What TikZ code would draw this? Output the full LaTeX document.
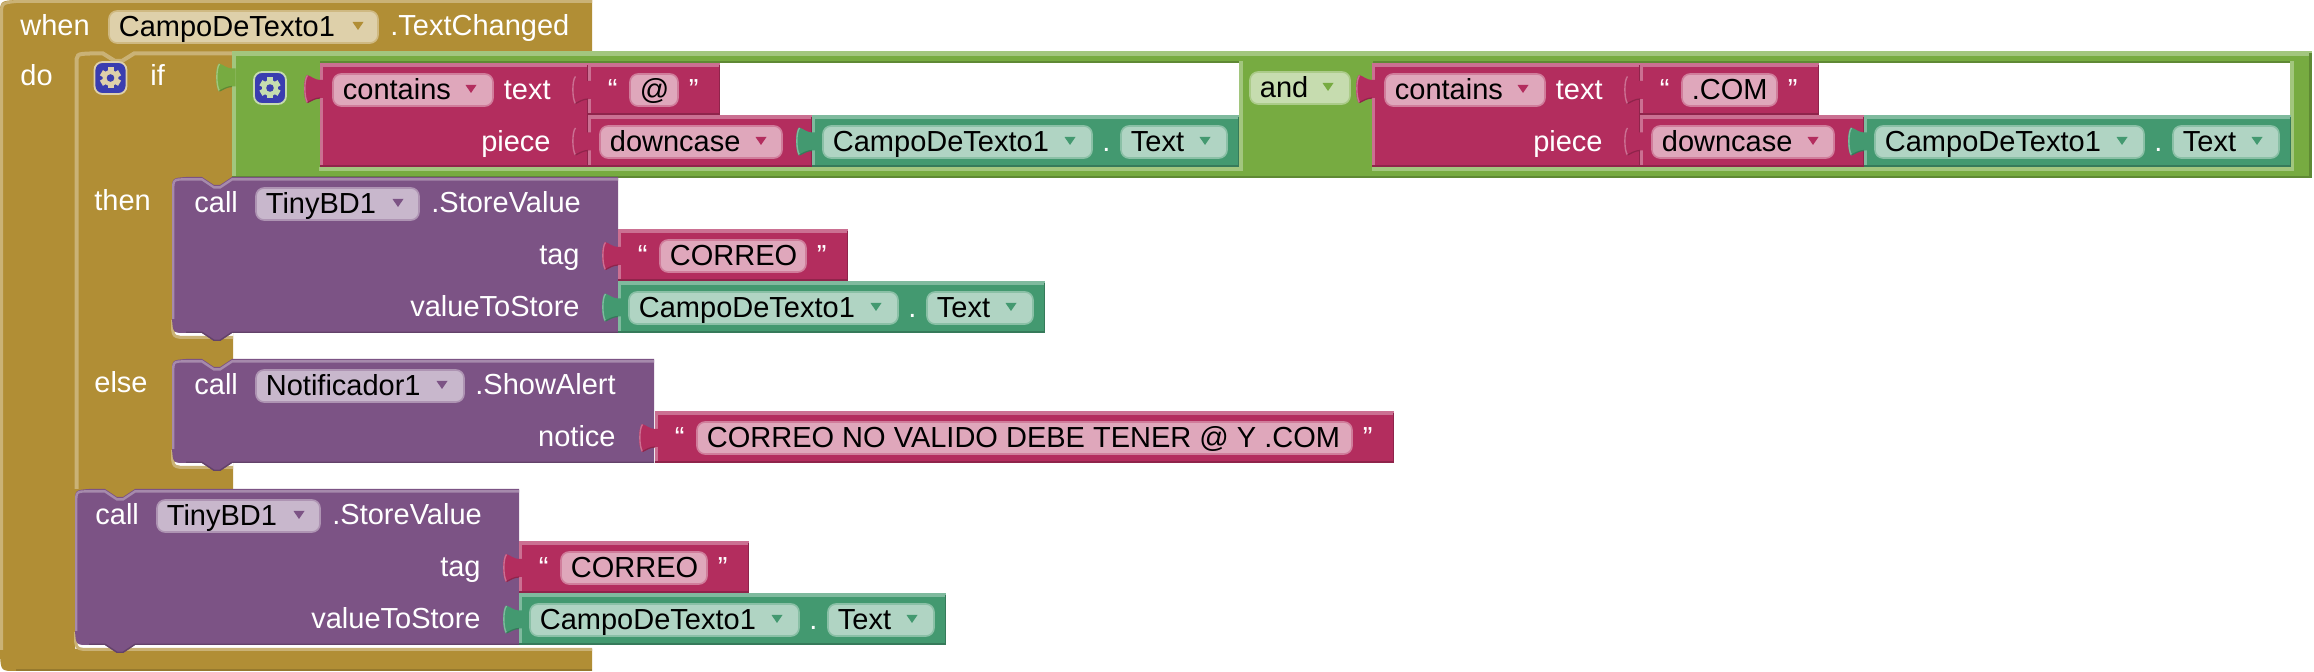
\documentclass[tikz,border=0pt]{standalone}
\usepackage{fontspec}
\setmainfont{Liberation Sans}
\definecolor{oro}{HTML}{B18E35}
\definecolor{rosa}{HTML}{B32D5E}
\definecolor{morado}{HTML}{7C5385}
\definecolor{verde}{HTML}{77AB41}
\definecolor{menta}{HTML}{439970}
\definecolor{azul}{HTML}{3A3DB0}
\tikzset{
    every node/.style={font=\fontsize{14.5}{16}\selectfont,inner sep=0pt,anchor=base west},
    etiq/.style={text=white},
    etiqder/.style={text=white,anchor=base east},
}
%Enchufe lateral de un bloque
\newcommand{\enchufe}[3]{
    \fill[#1] (#2+3.5,#3+5) -- (#2,#3+5) .. controls (#2-5,#3+5) and (#2-9,#3+1) .. (#2-13,#3) .. controls (#2-17,#3+4) and (#2-17,#3+23) .. (#2-13,#3+28) .. controls (#2-9,#3+26) and (#2-5,#3+23) .. (#2,#3+23) -- (#2+3.5,#3+23) -- cycle;
    \draw[#1!68!white,line width=0.7pt] (#2-12.5,#3+0.5) .. controls (#2-16,#3+4) and (#2-16,#3+23) .. (#2-12.5,#3+27.5);
    \draw[#1!80!black,line width=0.6pt] (#2-12.5,#3+27.5) .. controls (#2-9,#3+26) and (#2-5,#3+23) .. (#2,#3+23);
}
%Bloque recto con sus bordes
\newcommand{\bloque}[5]{
    \fill[#1] (#2,#3) rectangle (#4,#5);
    \fill[#1!68!white] (#2,#3) rectangle (#4,#3+4);
    \fill[#1!68!white] (#2,#3) rectangle (#2+3,#5);
    \fill[#1!80!black] (#2,#5-2) rectangle (#4,#5);
    \fill[#1!80!black] (#4-1.5,#3+2) rectangle (#4,#5);
}
%Campo sin flecha y campo con flecha
\newcommand{\campoT}[6]{
    \draw[#2!62!white,fill=#2!42!white,line width=0.8pt,rounded corners=4pt] (#3+1,#4+1) rectangle (#5-1,#4+33);
    \node[text=black] (#1) at (#3+10.5,#4+26.5) {#6};
}
\newcommand{\campo}[7]{
    \campoT{#1}{#2}{#3}{#4}{#5}{#7}
    \fill[#2] (#6-5.5,#4+12) -- (#6+5.5,#4+12) -- (#6,#4+20) -- cycle;
}
%Bloque de texto
\newcommand{\texto}[5]{
    \bloque{rosa}{#2}{#3}{#4+41}{#3+52}
    \enchufe{rosa}{#2}{#3+13}
    \node[etiq] (#1a) at (#2+19.5,#3+37) {“};
    \campoT{#1b}{rosa}{#2+41}{#3+10}{#4}{#5}
    \node[etiq] (#1c) at (#4+9.5,#3+37) {”};
}
%Bloque de componente
\newcommand{\componente}[3]{
    \bloque{menta}{#2}{#3}{#2+427}{#3+52}
    \enchufe{menta}{#2}{#3+12.5}
    \campo{#1a}{menta}{#2+10}{#3+10}{#2+281}{#2+258}{CampoDeTexto1}
    \node[etiq] (#1b) at (#2+290,#3+37) {.};
    \campo{#1c}{menta}{#2+308}{#3+10}{#2+416}{#2+393}{Text}
}
%Bloque contains
\newcommand{\contiene}[4]{
    \bloque{rosa}{#2}{63}{#2+268}{167}
    \enchufe{rosa}{#2}{75}
    \campo{#1a}{rosa}{#2+12}{73}{#2+174}{#2+151}{contains}
    \node[etiqder] (#1b) at (#2+231,100) {text};
    \node[etiqder] (#1c) at (#2+231,152) {piece};
    \texto{#1d}{#2+268}{63}{#3}{#4}
    \bloque{rosa}{#2+268}{115}{#2+492}{167}
    \enchufe{rosa}{#2+268}{127.5}
    \campo{#1e}{rosa}{#2+279}{125}{#2+463}{#2+441}{downcase}
    \componente{#1f}{#2+492}{115}
}
%Cuerpo de una llamada, con muesca arriba y abajo
\newcommand{\cuerpo}[4]{
    \fill[morado] (#1,#2+14) .. controls (#1,#2+1) .. (#1+14,#2) -- (#1+30,#2) -- (#1+42,#2+8) -- (#1+48,#2+8) -- (#1+60,#2) -- (#3,#2) -- (#3,#4) -- (#1+60,#4) -- (#1+48,#4+8) -- (#1+42,#4+8) -- (#1+30,#4) -- (#1+14,#4) .. controls (#1+1,#4) .. (#1,#4-14) -- cycle;
    \draw[morado!68!white,line width=1.2pt] (#1+1.2,#4-14) -- (#1+1.2,#2+14) .. controls (#1+1.2,#2+2.4) .. (#1+14,#2+2.4) -- (#1+30,#2+2.4) -- (#1+42,#2+10.4) -- (#1+48,#2+10.4) -- (#1+60,#2+2.4) -- (#3,#2+2.4);
    \draw[morado!80!black,line width=0.7pt] (#1+14,#4-0.7) -- (#1+30,#4-0.7) -- (#1+42,#4+7.3) -- (#1+48,#4+7.3) -- (#1+60,#4-0.7) -- (#3,#4-0.7);
}
%Hueco de una sentencia, bajo la llamada
\newcommand{\labio}[3]{
    \fill[white] (#1,#3-16) .. controls (#1,#3+3) .. (#1+16,#3+3) -- (#2,#3+3) -- (#2,#3-1) -- (#1,#3-1) -- cycle;
    \draw[oro!68!white,line width=1.5pt] (#1+0.5,#3-13) .. controls (#1+0.5,#3+4.5) .. (#1+16,#3+4.5) -- (#2,#3+4.5);
}
%Llamada StoreValue
\newcommand{\storevalue}[4]{
    \cuerpo{#4}{#3}{#2+446}{#3+156}
    \node[etiq] (#1a) at (#2+22,#3+36) {call};
    \campo{#1b}{morado}{#2+83}{#3+10}{#2+248}{#2+226}{TinyBD1}
    \node[etiq] (#1c) at (#2+259,#3+36) {.StoreValue};
    \node[etiqder] (#1d) at (#2+408,#3+88) {tag};
    \node[etiqder] (#1e) at (#2+408,#3+140) {valueToStore};
    \texto{#1f}{#2+446}{#3+52}{#2+635}{CORREO}
    \componente{#1g}{#2+446}{#3+104}
}
%Boton del engranaje
\newcommand{\engrane}[3]{
    \draw[#3,fill=azul,line width=0.9pt,rounded corners=4pt] (#1-16,#2-16) rectangle (#1+16,#2+16);
    \foreach \a in {0,60,...,300}{
        \fill[#3,shift={(#1,#2)},rotate=\a] (-3,-10.5) rectangle (3,0);
    }
    \fill[#3] (#1,#2) circle (4pt);
    \fill[azul] (#1,#2) circle (1.9pt);
}
\begin{document}
\begin{tikzpicture}[x=0.5pt,y=-0.5pt]
\useasboundingbox[fill=white] (0,0) rectangle (2314,672);

%Bloque when
\fill[oro] (0,16) .. controls (0,1) .. (16,0) -- (592,0) -- (592,51) -- (233,51) -- (233,500) -- (75,500) -- (75,649) -- (592,649) -- (592,671) -- (16,671) .. controls (1,671) .. (0,655) -- cycle;
\draw[oro!68!white,line width=1.5pt] (1.5,650) -- (1.5,16) .. controls (1.5,3) .. (16,1.5) -- (592,1.5);
\draw[oro!85!black,line width=0.8pt] (16,670) -- (592,670);
\node[etiq] (lblWhen) at (20,36) {when};
\campo{fldHat}{oro}{108}{10}{379}{358}{CampoDeTexto1}
\node[etiq] (lblCambio) at (390,36) {.TextChanged};
\node[etiq] (lblDo) at (20,86) {do};

%Bloque if
\draw[oro!68!white,line width=2pt] (76.5,489) -- (76.5,65) .. controls (76.5,54) .. (90,53.5) -- (103,53.5) -- (115,61) -- (122,61) -- (134,53.5) -- (232,53.5);
\engrane{110.5}{78}{oro!42!white}
\node[etiq] (lblIf) at (150,86) {if};
\node[etiq] (lblThen) at (94,211) {then};
\node[etiq] (lblElse) at (94,393) {else};
\labio{172}{233}{333}
\labio{172}{233}{463}
\labio{75}{592}{645}

%Bloque and
\fill[verde] (232,51) rectangle (2312,178);
\fill[verde!68!white] (232,51) rectangle (2312,56);
\fill[verde!68!white] (232,51) rectangle (236,177);
\fill[verde!80!black] (232,176) rectangle (2312,178);
\fill[verde!80!black] (2309,53) rectangle (2312,178);
\enchufe{verde}{232}{63.5}
\foreach \a/\b in {320/1239,1373/2290}{
    \fill[verde!80!black] (\a,61) rectangle (\b,63);
    \fill[white] (\a,63) rectangle (\b,167);
    \fill[verde!68!white] (\b,61) rectangle (\b+4,171);
    \fill[verde!68!white] (\a-1,167) rectangle (\b+4,171);
}
\engrane{270}{88}{verde!42!white}
\campo{fldAnd}{verde}{1249}{71}{1351}{1328}{and}

%Condiciones
\contiene{condA}{320}{679}{@}
\contiene{condB}{1372}{1778}{.COM}

%Rama then
\storevalue{then}{172}{177}{172}

%Rama else
\cuerpo{172}{359}{654}{463}
\node[etiq] (elseCall) at (194,395) {call};
\campo{elseFld}{morado}{255}{369}{465}{442}{Notificador1}
\node[etiq] (elseAlert) at (475,395) {.ShowAlert};
\node[etiqder] (elseNotice) at (616,447) {notice};
\texto{elseTxt}{655}{411}{1353}{CORREO NO VALIDO DEBE TENER @ Y .COM}

%Llamada final
\storevalue{fin}{73}{489}{75}
\end{tikzpicture}
\end{document}
